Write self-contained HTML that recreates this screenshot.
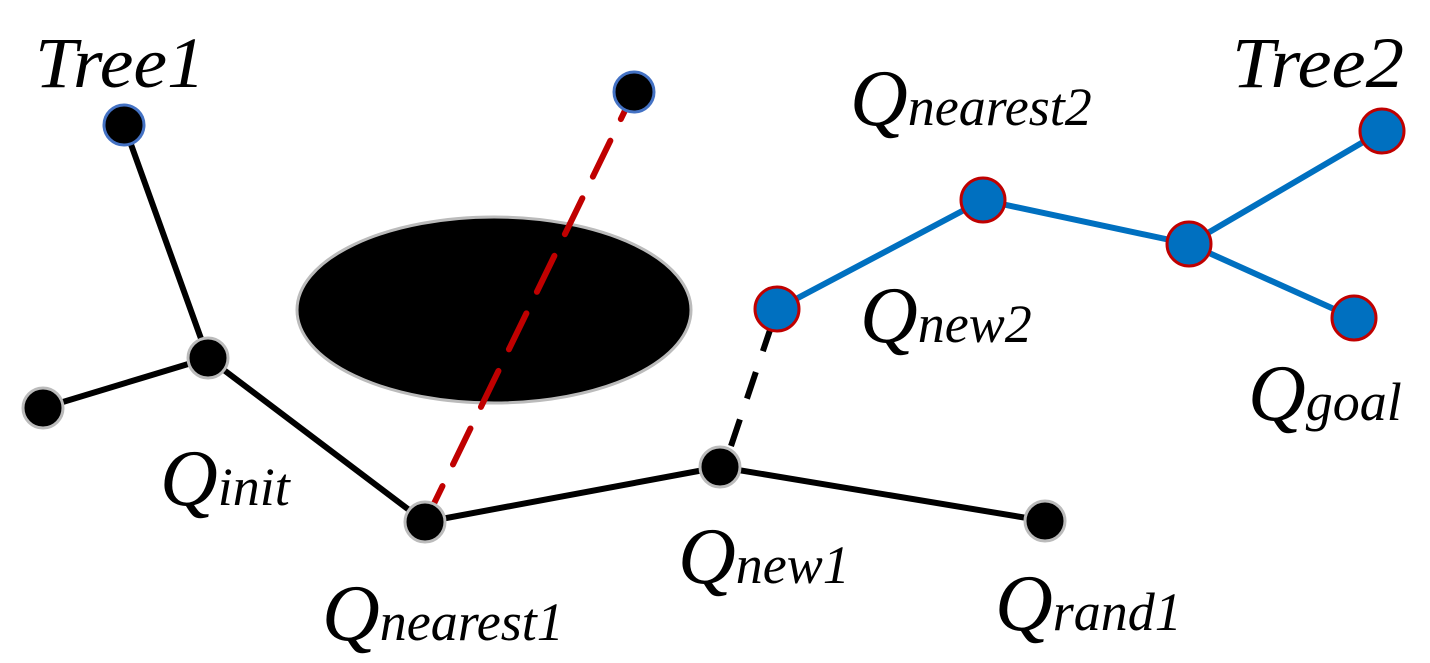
<!DOCTYPE html>
<html><head><meta charset="utf-8"><style>html,body{margin:0;padding:0;background:#fff}svg{display:block}text{font-family:"Liberation Serif","Times New Roman","DejaVu Serif",serif;font-style:italic;fill:#000}</style></head>
<body>
<svg width="1430" height="663" viewBox="0 0 1430 663" xmlns="http://www.w3.org/2000/svg">
<ellipse cx="494" cy="310" rx="197" ry="93" fill="#000" stroke="#bbb" stroke-width="3"/>
<g stroke="#000" stroke-width="6" fill="none">
<line x1="124" y1="125" x2="208" y2="358"/>
<line x1="43" y1="408" x2="208" y2="358"/>
<line x1="208" y1="358" x2="425" y2="522"/>
<line x1="425" y1="522" x2="720" y2="467"/>
<line x1="720" y1="467" x2="1045" y2="521"/>
<line x1="731" y1="446" x2="770" y2="330" stroke-dasharray="28,22"/>
</g>
<line x1="425" y1="522" x2="634" y2="92" stroke="#c00000" stroke-width="6" stroke-dasharray="40,24" stroke-linecap="round"/>
<g stroke="#0070c0" stroke-width="6" fill="none">
<polyline points="777,309 983,200 1189,244 1382,131"/>
<line x1="1189" y1="244" x2="1354" y2="318"/>
</g>
<g fill="#000">
<circle cx="124" cy="125" r="20" stroke="#4472c4" stroke-width="3"/>
<circle cx="634" cy="92" r="20" stroke="#4472c4" stroke-width="3"/>
<circle cx="208" cy="358" r="20" stroke="#bbb" stroke-width="3"/>
<circle cx="43" cy="408" r="20" stroke="#bbb" stroke-width="3"/>
<circle cx="425" cy="522" r="20" stroke="#bbb" stroke-width="3"/>
<circle cx="720" cy="467" r="20" stroke="#bbb" stroke-width="3"/>
<circle cx="1045" cy="521" r="20" stroke="#bbb" stroke-width="3"/>
</g>
<g fill="#0070c0" stroke="#c00000" stroke-width="3">
<circle cx="777" cy="309" r="22"/>
<circle cx="983" cy="200" r="22"/>
<circle cx="1189" cy="244" r="22"/>
<circle cx="1382" cy="131" r="22"/>
<circle cx="1354" cy="318" r="22"/>
</g>
<text x="35" y="87" font-size="72" textLength="170" lengthAdjust="spacingAndGlyphs">Tree1</text>
<text x="1232" y="87" font-size="72" textLength="172" lengthAdjust="spacingAndGlyphs">Tree2</text>
<text x="160" y="505" font-size="80">Q<tspan font-size="54">init</tspan></text>
<text x="322" y="640" font-size="80">Q<tspan font-size="54">nearest1</tspan></text>
<text x="678" y="583" font-size="80">Q<tspan font-size="54">new1</tspan></text>
<text x="995" y="630" font-size="80">Q<tspan font-size="54">rand1</tspan></text>
<text x="850" y="125" font-size="80">Q<tspan font-size="54">nearest2</tspan></text>
<text x="860" y="342" font-size="80">Q<tspan font-size="54">new2</tspan></text>
<text x="1248" y="420" font-size="80">Q<tspan font-size="54">goal</tspan></text>
</svg>
</body></html>
